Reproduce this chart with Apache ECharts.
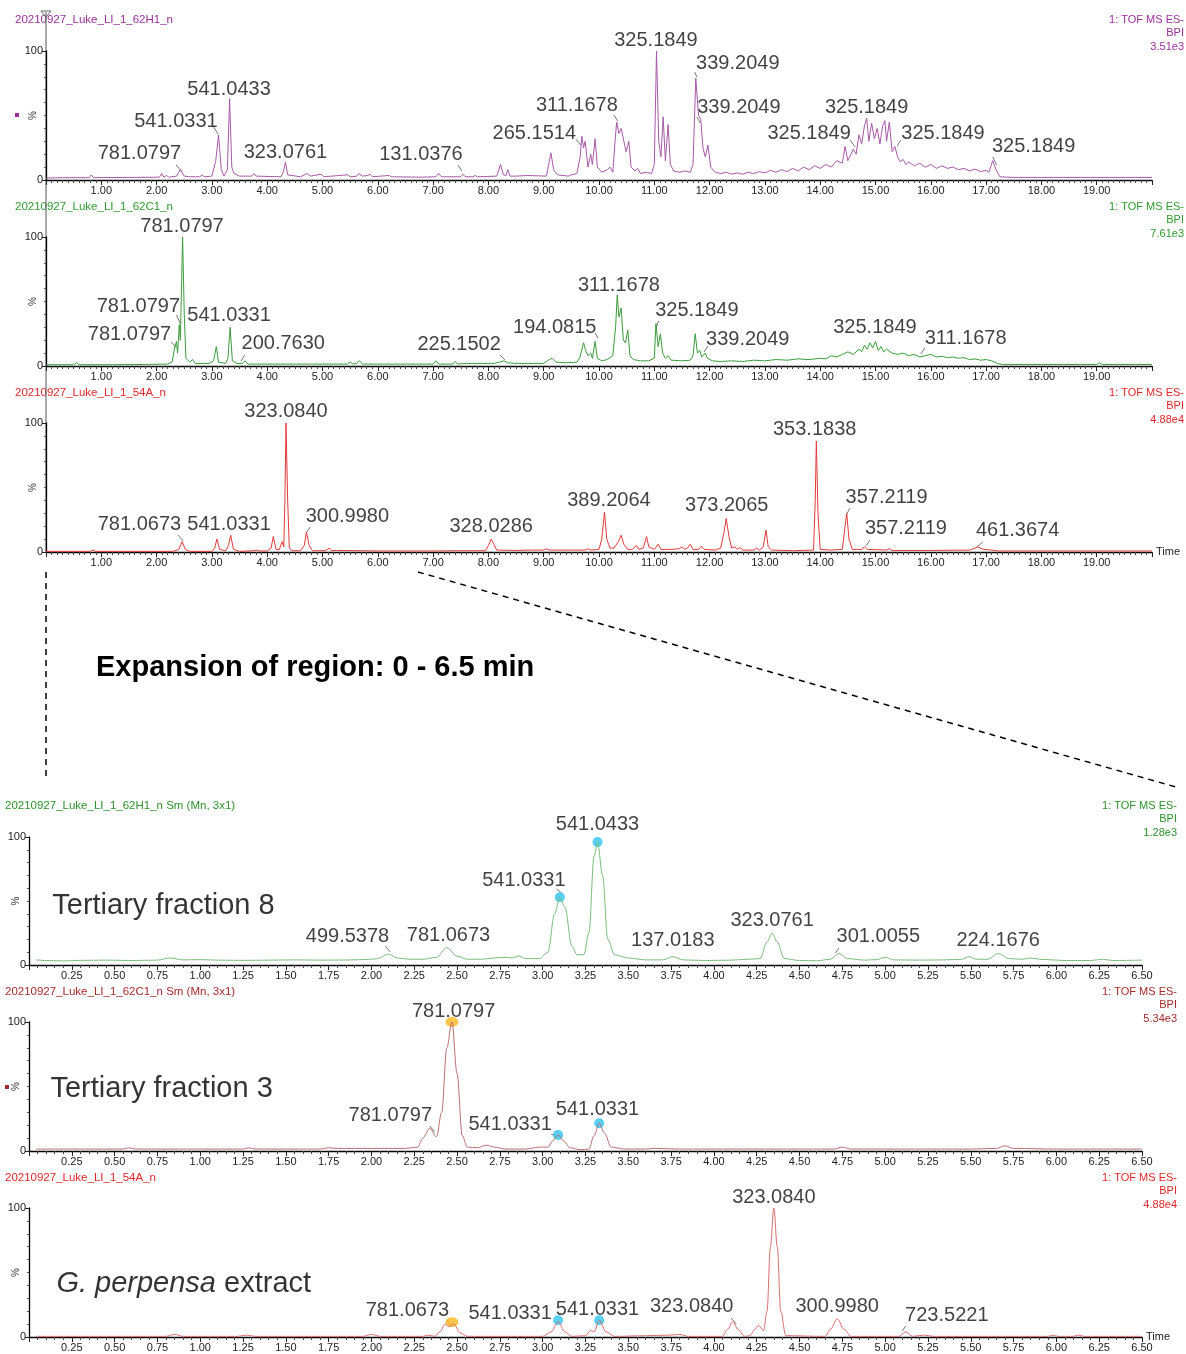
<!DOCTYPE html>
<html><head><meta charset="utf-8">
<script src="https://cdn.jsdelivr.net/npm/echarts@6/dist/echarts.min.js"></script>
<style>html,body{margin:0;padding:0;background:#fff}#c{width:1186px;height:1354px}</style>
</head><body><div id="c"></div>
<script>
// ---------- DATA: [time (min), intensity (%)] ----------
const trace62H1 = [[0,1.5],[0.3,1.8],[0.78,1.8],[0.82,4],[0.86,1.8],[1.5,2],[2.05,2.2],[2.09,5],[2.13,2.2],[2.18,3.5],[2.22,2.2],[2.36,3],[2.43,8],[2.5,3],[2.6,2.5],[2.78,2.5],[2.82,4],[2.86,2.5],[3.0,3],[3.07,15],[3.12,35],[3.17,8],[3.22,3],[3.28,8],[3.32,63],[3.36,10],[3.4,5],[3.5,3],[3.72,3],[3.76,5],[3.8,3],[4.25,2.5],[4.29,6],[4.33,14],[4.37,4],[4.6,2.5],[4.72,5],[4.78,3],[4.98,4.5],[5.02,2.5],[5.45,4],[5.5,2.5],[5.62,3],[5.66,5],[5.72,3],[5.82,3.5],[5.86,4.5],[5.9,2.5],[6.2,3.5],[6.25,2.5],[6.8,2.2],[7.05,2.5],[7.1,5],[7.15,2.5],[7.5,2.5],[7.54,4.5],[7.58,2.5],[7.72,2.5],[7.76,3.5],[7.8,2.5],[8.15,3],[8.22,12],[8.27,4],[8.32,3.5],[8.35,8],[8.39,3],[8.5,3],[8.7,3.5],[9.05,3],[9.13,21],[9.18,8],[9.25,4],[9.45,3],[9.5,4],[9.6,5],[9.66,18],[9.69,34],[9.72,25],[9.75,30],[9.8,10],[9.85,20],[9.88,12],[9.93,32],[9.97,10],[10.05,6],[10.15,8],[10.2,10],[10.25,6],[10.29,30],[10.32,45],[10.36,36],[10.4,40],[10.45,30],[10.49,22],[10.54,30],[10.58,10],[10.65,7],[10.7,9],[10.75,5],[10.85,6],[10.95,5],[11.0,12],[11.04,100],[11.08,30],[11.12,18],[11.16,49],[11.2,15],[11.25,43],[11.29,12],[11.35,7],[11.45,6],[11.55,7],[11.65,6],[11.7,12],[11.75,79],[11.8,50],[11.84,47],[11.88,25],[11.92,18],[11.97,27],[12.02,10],[12.1,6],[12.2,5],[12.3,6],[12.4,4.5],[12.5,5.5],[12.6,4.5],[12.7,6],[12.8,5],[12.9,6.5],[13.0,5.5],[13.1,7.5],[13.2,6],[13.3,8],[13.4,6.5],[13.5,9],[13.6,7],[13.7,10],[13.8,8],[13.9,11],[14.0,9],[14.1,12],[14.2,10],[14.3,15],[14.4,13],[14.45,26],[14.5,15],[14.6,24],[14.65,20],[14.7,35],[14.75,28],[14.8,42],[14.84,48],[14.88,30],[14.93,44],[14.98,32],[15.03,40],[15.08,28],[15.13,42],[15.17,46],[15.2,30],[15.25,45],[15.3,22],[15.35,26],[15.4,18],[15.45,14],[15.5,16],[15.55,12],[15.6,14],[15.7,11],[15.8,13],[15.9,10],[16.0,12],[16.1,9],[16.2,11],[16.3,9],[16.4,10],[16.5,8],[16.6,9],[16.7,7],[16.8,8.5],[16.9,6.5],[17.0,7.5],[17.05,6],[17.12,15],[17.18,8],[17.25,2.5],[17.5,2],[18,2],[19,2],[20,2]];

const trace62C1 = [[0,1],[0.5,1],[0.55,2.5],[0.6,1],[1.2,1],[1.8,1.2],[2.2,1.5],[2.28,3],[2.33,15],[2.36,19],[2.38,10],[2.41,32],[2.43,20],[2.45,60],[2.47,100],[2.5,40],[2.53,6],[2.6,3],[2.65,5],[2.7,2],[2.95,2],[3.03,4],[3.08,15],[3.12,3],[3.25,2],[3.29,6],[3.33,30],[3.37,4],[3.45,2],[3.55,2],[3.6,4],[3.65,1.5],[4.0,1.5],[4.7,1.5],[4.73,3],[4.77,1.5],[5.45,1.5],[5.5,3],[5.55,1.5],[5.62,2],[5.67,4],[5.72,1.5],[6.5,1.5],[7.0,1.5],[7.05,4],[7.1,1.5],[7.36,1.5],[7.4,3.5],[7.44,1.5],[7.6,2],[8.1,2],[8.2,3],[8.28,4],[8.35,2.5],[8.5,2],[9.0,2],[9.1,5],[9.15,6],[9.22,3],[9.4,2.5],[9.6,3],[9.65,6],[9.72,18],[9.76,12],[9.8,8],[9.85,10],[9.88,6],[9.93,19],[9.97,6],[10.05,4],[10.15,5],[10.25,8],[10.3,30],[10.33,55],[10.36,38],[10.4,45],[10.44,20],[10.48,18],[10.52,28],[10.56,8],[10.62,5],[10.75,4],[10.9,4],[11.0,6],[11.03,33],[11.07,15],[11.11,25],[11.15,10],[11.2,6],[11.25,8],[11.3,4.5],[11.5,4],[11.65,4.5],[11.7,8],[11.74,25],[11.78,10],[11.82,12],[11.86,7],[11.92,10],[11.96,6],[12.05,4],[12.2,3.5],[12.4,4],[12.6,3.5],[12.8,4.5],[13.0,4],[13.2,5],[13.4,4.5],[13.6,5.5],[13.8,5],[14.0,6],[14.1,5.5],[14.2,8],[14.3,7],[14.4,9],[14.5,11],[14.6,9],[14.7,13],[14.75,11],[14.8,16],[14.85,13],[14.9,18],[14.95,14],[15.0,19],[15.05,12],[15.1,15],[15.15,11],[15.2,13],[15.3,10],[15.4,9],[15.5,10],[15.6,8],[15.7,9],[15.8,7],[15.9,8],[16.0,9],[16.1,7],[16.2,7.5],[16.3,6.5],[16.4,7],[16.5,6],[16.6,6.5],[16.7,5],[16.8,5.5],[16.9,4.5],[17.0,5],[17.1,4],[17.2,2],[17.3,1.2],[18,1.2],[19.0,1.2],[19.05,2.5],[19.1,1.2],[20,1.2]];

const trace54A = [[0,0.5],[0.8,0.5],[0.85,1.5],[0.9,0.5],[2.3,0.5],[2.4,2],[2.46,8],[2.52,2],[2.6,0.5],[3.0,0.5],[3.05,3],[3.09,10],[3.14,2],[3.25,1],[3.3,5],[3.34,13],[3.39,2],[3.5,0.5],[3.75,1],[3.8,1.5],[3.85,0.8],[4.0,0.8],[4.07,3],[4.11,12],[4.16,2],[4.22,2],[4.27,8],[4.3,4],[4.32,40],[4.34,100],[4.37,40],[4.4,3],[4.45,1],[4.6,1],[4.67,5],[4.71,15.5],[4.76,5],[4.82,1],[5.05,1],[5.12,3],[5.16,1],[5.25,1.2],[6.0,0.8],[7.0,0.8],[7.5,1],[7.95,1],[8.0,5],[8.05,10],[8.1,6],[8.15,1.5],[8.5,1.2],[8.8,1.5],[9.0,1.5],[9.05,2.5],[9.1,1.5],[9.5,1.5],[9.75,1.5],[9.8,2.5],[9.85,1.5],[10.0,2],[10.05,10],[10.1,31],[10.14,10],[10.2,3],[10.27,3],[10.35,8],[10.4,13],[10.45,6],[10.52,2],[10.6,2],[10.68,5],[10.72,2],[10.8,3],[10.86,12],[10.9,4],[11.0,2],[11.07,6],[11.12,2],[11.3,2],[11.45,2.5],[11.5,4],[11.55,2],[11.6,3],[11.65,6],[11.7,2],[11.8,2],[11.85,4.5],[11.9,2],[12.1,1.5],[12.2,3],[12.26,15],[12.3,26],[12.35,12],[12.4,3],[12.45,4],[12.5,2],[12.55,3.5],[12.6,1.5],[12.8,1.5],[12.85,3],[12.9,1.5],[12.97,4],[13.02,17],[13.06,4],[13.12,1.5],[13.5,1],[13.88,1.5],[13.91,40],[13.93,86],[13.96,30],[14.0,2],[14.2,1.5],[14.4,2],[14.45,20],[14.48,30],[14.52,10],[14.58,2],[14.75,2],[14.8,4],[14.85,2],[15.2,1.5],[15.25,2.5],[15.3,1.2],[16.0,1.2],[16.7,1.5],[16.8,3],[16.85,4],[16.95,2],[17.1,1.5],[17.22,0.8],[20,0.8]];

const zoom62H1 = [[0.04,4],[0.1,3.5],[0.2,3.2],[0.3,3.6],[0.45,3.8],[0.6,3.5],[0.75,3.8],[0.82,5.5],[0.9,4],[1.0,4.2],[1.1,3.8],[1.25,3.6],[1.4,3.8],[1.55,4],[1.7,3.8],[1.85,3.9],[1.95,4.2],[2.03,4.8],[2.1,8.5],[2.15,5.5],[2.22,4.5],[2.3,4.5],[2.38,6],[2.44,13.5],[2.5,7],[2.56,4.5],[2.65,4.5],[2.72,5.5],[2.78,6],[2.82,5.5],[2.86,7],[2.9,5],[2.98,5],[3.03,10],[3.07,40],[3.1,53],[3.13,45],[3.17,15],[3.2,8],[3.24,8],[3.27,25],[3.3,85],[3.32,96],[3.35,70],[3.38,20],[3.42,8],[3.5,5.5],[3.6,4],[3.7,4],[3.76,6.5],[3.82,4],[3.95,3.5],[4.1,3.8],[4.2,4.5],[4.27,5],[4.31,18],[4.34,25],[4.37,18],[4.41,5],[4.5,3.5],[4.6,3.3],[4.68,4.5],[4.73,9],[4.78,5],[4.88,3.8],[4.95,4.2],[5.0,6],[5.05,4],[5.2,3.8],[5.35,4],[5.45,4.5],[5.49,6.5],[5.53,4.5],[5.6,4.5],[5.66,9],[5.72,5],[5.8,4.5],[5.85,5.5],[5.9,4.5],[6.05,3.5],[6.2,3.5],[6.27,4.5],[6.33,3.5],[6.5,3.8]];

const zoom62C1 = [[0.04,1.5],[0.3,1.5],[0.55,1.5],[0.58,2.5],[0.62,1.5],[1.0,1.5],[1.25,1.5],[1.28,2.5],[1.32,1.5],[1.7,1.5],[1.75,2.5],[1.8,2],[2.0,2],[2.2,2],[2.27,3],[2.3,10],[2.34,17.5],[2.38,11],[2.41,30],[2.44,80],[2.47,100],[2.5,60],[2.53,12],[2.56,3],[2.62,2.5],[2.67,4.5],[2.72,3],[2.78,1.5],[2.9,1.5],[2.98,3],[3.03,3],[3.06,8],[3.09,12.5],[3.12,8],[3.16,2.5],[3.22,1],[3.27,1.5],[3.3,12],[3.33,21.5],[3.36,14],[3.4,3],[3.48,1.5],[3.6,1.5],[3.65,2],[3.8,1.5],[4.3,1.5],[4.7,1.5],[4.75,3],[4.8,1.5],[5.0,1.5],[5.3,1.5],[5.5,1.5],[5.65,2],[5.7,4],[5.75,2],[6.0,1.5],[6.5,1.5]];

const zoom54A = [[0.04,0.5],[0.8,0.5],[0.85,2],[0.9,0.5],[1.22,0.5],[1.27,1.5],[1.32,0.5],[1.95,0.5],[2.0,2],[2.05,0.5],[2.3,0.5],[2.33,1.5],[2.37,0.5],[2.4,4],[2.43,10],[2.45,8],[2.48,10],[2.52,3],[2.56,0.5],[3.0,0.5],[3.05,4],[3.09,12],[3.13,4],[3.17,0.5],[3.25,1],[3.28,5],[3.3,4],[3.33,13],[3.37,4],[3.42,0.5],[3.6,1],[3.75,1.5],[3.8,2],[3.85,0.5],[4.05,0.5],[4.08,6],[4.11,12],[4.14,6],[4.18,0.5],[4.21,1],[4.24,6],[4.26,9],[4.29,5],[4.31,20],[4.33,70],[4.35,100],[4.37,70],[4.39,20],[4.42,1],[4.65,0.5],[4.68,6],[4.72,14],[4.76,6],[4.8,0.5],[5.08,0.5],[5.12,4],[5.16,0.5],[5.23,1.5],[5.28,0.5],[5.95,0.5],[5.98,1.5],[6.01,0.5],[6.1,0.5],[6.13,1.5],[6.16,0.5],[6.5,0.5]];

// peak annotations: [time, %, text]
const labels62H1 = [[1.69,20.9,'781.0797'],[2.35,45.7,'541.0331'],[3.31,70.5,'541.0433'],[4.33,21.7,'323.0761'],[6.78,19.4,'131.0376'],[8.83,36.4,'265.1514'],[9.60,58.1,'311.1678'],[11.03,108.5,'325.1849'],[12.51,90.7,'339.2049'],[12.53,56.6,'339.2049'],[13.80,35.7,'325.1849'],[14.84,56.6,'325.1849'],[16.22,35.7,'325.1849'],[17.86,25.6,'325.1849']];
const labels62C1 = [[2.46,108.5,'781.0797'],[1.67,46.5,'781.0797'],[1.51,24.8,'781.0797'],[3.31,38.8,'541.0331'],[4.29,17.1,'200.7630'],[7.47,16.3,'225.1502'],[9.20,30.2,'194.0815'],[10.36,62.8,'311.1678'],[11.77,43.4,'325.1849'],[12.69,20.9,'339.2049'],[14.99,30.2,'325.1849'],[16.63,21.7,'311.1678']];
const labels54A = [[4.34,109.3,'323.0840'],[1.69,21.7,'781.0673'],[3.31,21.7,'541.0331'],[5.45,27.9,'300.9980'],[8.05,19.4,'328.0286'],[10.18,40.3,'389.2064'],[12.31,36.4,'373.2065'],[13.90,94.6,'353.1838'],[15.20,41.9,'357.2119'],[15.55,18.6,'357.2119'],[17.57,16.3,'461.3674']];
const labelsZ62H1 = [[3.32,109.4,'541.0433'],[2.89,66.4,'541.0331'],[1.86,21.9,'499.5378'],[2.45,23.4,'781.0673'],[3.76,18.8,'137.0183'],[4.34,34.4,'323.0761'],[4.96,21.9,'301.0055'],[5.66,18.8,'224.1676']];
const labelsZ62C1 = [[2.48,108.5,'781.0797'],[2.11,27.9,'781.0797'],[2.81,20.2,'541.0331'],[3.32,31.8,'541.0331']];
const labelsZ54A = [[4.35,108.5,'323.0840'],[2.21,20.2,'781.0673'],[2.81,18.6,'541.0331'],[3.32,21.7,'541.0331'],[3.87,24.0,'323.0840'],[4.72,23.3,'300.9980'],[5.36,16.3,'723.5221']];

// leader lines from annotation to peak: [t1, %1, t2, %2]
const leaders62H1 = [[2.355,11.6,2.463,6.2],[3.03,41.1,3.11,35.7],[7.45,11.6,7.52,7.0],[9.58,31.8,9.67,27.1],[10.27,50.4,10.34,45.7],[11.73,83.7,11.77,79.8],[11.77,48.8,11.83,44.2],[14.54,31.0,14.63,25.6],[15.39,26.4,15.46,31.0],[17.12,17.8,17.19,11.6]];
const leaders62C1 = [[2.36,39.5,2.43,32.6],[2.27,18.6,2.36,14.0],[3.59,8.5,3.53,3.9],[8.21,8.5,8.30,4.7],[9.93,25.6,9.98,21.7],[11.08,34.9,11.03,29.5],[11.97,15.5,11.9,10.9],[15.89,14.0,15.82,9.3]];
const leaders54A = [[2.39,13.2,2.48,8.5],[4.78,19.4,4.70,14.7],[14.54,34.1,14.48,29.5],[14.9,9.3,14.83,4.7],[16.94,7.8,16.83,3.9]];
const leadersZ62H1 = [[3.08,59.4,3.11,56.3],[2.08,14.8,2.11,10.2],[4.73,13.3,4.71,9.4]];
const leadersZ62C1 = [[2.34,19.4,2.37,14.7],[3.05,13.2,3.08,10.9]];
const leadersZ54A = [[2.44,13.2,2.46,9.3],[4.10,14.7,4.13,10.1],[5.12,8.5,5.10,4.7]];

// sample names: [time, %, text] (left-anchored)
const sampleZ62H1 = [[0.133,46.1,'Tertiary fraction 8']];
const sampleZ62C1 = [[0.122,48.1,'Tertiary fraction 3']];
const sampleZ54A = [[0.157,41.1,'{i|G. perpensa} extract']];

// highlighted compounds: [time, %]
const cyanZ62H1 = [[3.10,53],[3.32,96]];
const orangeZ62C1 = [[2.47,100]];
const cyanZ62C1 = [[3.09,12.5],[3.33,21.5]];
const orangeZ54A = [[2.47,11.5]];
const cyanZ54A = [[3.09,13],[3.33,13]];

const fileNames = ['20210927_Luke_LI_1_62H1_n','20210927_Luke_LI_1_62C1_n','20210927_Luke_LI_1_54A_n',
  '20210927_Luke_LI_1_62H1_n Sm (Mn, 3x1)','20210927_Luke_LI_1_62C1_n Sm (Mn, 3x1)','20210927_Luke_LI_1_54A_n'];
const scaleTexts = ['3.51e3','7.61e3','4.88e4','1.28e3','5.34e3','4.88e4'];

// ---------- CHART ----------
const FONT = '"Liberation Sans", Arial, sans-serif';
const panels = [
  {d:trace62H1, lab:labels62H1, ld:leaders62H1, line:'#A65AA6', tc:'#9A2F9A', top:51, h:129, left:46, right:34, max:20, iv:1, minor:10, title:[15,20], time:false},
  {d:trace62C1, lab:labels62C1, ld:leaders62C1, line:'#3C9C3C', tc:'#2F9A2F', top:237, h:129, left:46, right:34, max:20, iv:1, minor:10, title:[15,207], time:false},
  {d:trace54A, lab:labels54A, ld:leaders54A, line:'#E23A3A', tc:'#E3262B', top:423, h:129, left:46, right:34, max:20, iv:1, minor:10, title:[15,393], time:true},
  {d:zoom62H1, lab:labelsZ62H1, ld:leadersZ62H1, s:sampleZ62H1, cy:cyanZ62H1, line:'#7CBC7C', tc:'#2E902E', top:837, h:128, left:29, right:44, max:6.5, iv:0.25, minor:5, title:[5,806], time:false, smooth:true},
  {d:zoom62C1, lab:labelsZ62C1, ld:leadersZ62C1, s:sampleZ62C1, cy:cyanZ62C1, or:orangeZ62C1, line:'#B87070', tc:'#A52A2A', top:1022, h:129, left:29, right:44, max:6.5, iv:0.25, minor:5, title:[5,992], time:false, smooth:true},
  {d:zoom54A, lab:labelsZ54A, ld:leadersZ54A, s:sampleZ54A, cy:cyanZ54A, or:orangeZ54A, line:'#DA6E6E', tc:'#E3262B', top:1208, h:129, left:29, right:44, max:6.5, iv:0.25, minor:5, title:[5,1178], time:true, smooth:true}
];

const grid=[], xAxis=[], yAxis=[], series=[], graphic=[];
panels.forEach((p,i)=>{
  grid.push({left:p.left, right:p.right, top:p.top, height:p.h, containLabel:false, outerBoundsMode:'none'});
  xAxis.push({gridIndex:i, type:'value', min:0, max:p.max, interval:p.iv,
    axisLine:{lineStyle:{color:'#000', width:1.3}},
    axisTick:{length:5, lineStyle:{color:'#222'}},
    minorTick:{show:true, splitNumber:p.minor, length:3, lineStyle:{color:'#444'}},
    splitLine:{show:false}, minorSplitLine:{show:false},
    axisLabel:{showMinLabel:false, showMaxLabel:p.max<10, fontSize:11, color:'#222', margin:5, fontFamily:FONT,
      formatter:v=>v.toFixed(2)},
    name:p.time?'Time':'', nameLocation:'end', nameGap:4, nameMoveOverlap:false,
    nameTextStyle:{fontSize:11, color:'#222', fontFamily:FONT}
  });
  yAxis.push({gridIndex:i, type:'value', min:0, max:100, interval:100,
    axisLine:{show:true, lineStyle:{color:'#000', width:1.3}},
    axisTick:{show:true, length:4, lineStyle:{color:'#222'}},
    minorTick:{show:true, splitNumber:10, length:2, lineStyle:{color:'#555'}},
    splitLine:{show:false},
    axisLabel:{fontSize:11, color:'#222', margin:3, fontFamily:FONT},
    name:'%', nameLocation:'middle', nameRotate:90, nameGap:8, nameMoveOverlap:false,
    nameTextStyle:{fontSize:10, color:'#333', fontFamily:FONT}
  });
  series.push({type:'line', xAxisIndex:i, yAxisIndex:i, data:p.d, showSymbol:false,
    smooth:p.smooth?0.35:false, smoothMonotone:'x',
    lineStyle:{color:p.line, width:1}, silent:true});
  series.push({type:'lines', coordinateSystem:'cartesian2d', xAxisIndex:i, yAxisIndex:i, silent:true,
    data:p.ld.map(a=>({coords:[[a[0],a[1]],[a[2],a[3]]]})),
    lineStyle:{color:'#777', width:1, opacity:1}});
  series.push({type:'scatter', xAxisIndex:i, yAxisIndex:i, clip:false, silent:true,
    data:p.lab.map(a=>({value:[a[0],a[1]], name:a[2]})),
    symbolSize:1, itemStyle:{color:'rgba(0,0,0,0)'},
    label:{show:true, position:'inside', formatter:'{b}', fontSize:20, color:'#111', textBorderWidth:0, fontFamily:FONT}});
  if(p.s) series.push({type:'scatter', xAxisIndex:i, yAxisIndex:i, clip:false, silent:true,
    data:p.s.map(a=>({value:[a[0],a[1]], name:a[2]})),
    symbolSize:1, itemStyle:{color:'rgba(0,0,0,0)'},
    label:{show:true, position:'right', distance:0, formatter:'{b}', fontSize:29, color:'#000', textBorderWidth:0, fontFamily:FONT,
      rich:{i:{fontSize:29, fontStyle:'italic', color:'#000', textBorderWidth:0, fontFamily:FONT}}}});
  if(p.cy) series.push({type:'scatter', xAxisIndex:i, yAxisIndex:i, clip:false, silent:true,
    data:p.cy, symbolSize:10, itemStyle:{color:'#2EC4F4'}});
  if(p.or) series.push({type:'scatter', xAxisIndex:i, yAxisIndex:i, clip:false, silent:true,
    data:p.or, symbolSize:[13,10], itemStyle:{color:'#FFB81E'}});
  graphic.push({type:'text', x:p.title[0], y:p.title[1], style:{text:fileNames[i], fill:p.tc, font:'11.5px '+FONT, textVerticalAlign:'middle'}});
  graphic.push({type:'text', x:i<3?1184:1177, y:p.title[1]-7, style:{text:'1: TOF MS ES-\nBPI\n'+scaleTexts[i], fill:p.tc, font:'11px '+FONT, textAlign:'right', textVerticalAlign:'top', lineHeight:13.5}});
});

// cursor line through the upper three chromatograms
graphic.push({type:'line', shape:{x1:46,y1:12,x2:46,y2:552}, style:{stroke:'#555', lineWidth:1}});
graphic.push({type:'polygon', shape:{points:[[41,11],[51,11],[46,17]]}, style:{fill:'none', stroke:'#666', lineWidth:1}});
// markers
graphic.push({type:'rect', shape:{x:15,y:113,width:4,height:4}, style:{fill:'#9A2F9A'}});
graphic.push({type:'rect', shape:{x:5,y:1085,width:4,height:4}, style:{fill:'#A52A2A'}});
// expansion guides
graphic.push({type:'line', shape:{x1:46,y1:572,x2:46,y2:776}, style:{stroke:'#000', lineWidth:1.5, lineDash:[6,5]}});
graphic.push({type:'line', shape:{x1:418,y1:572,x2:1176,y2:787}, style:{stroke:'#000', lineWidth:1.5, lineDash:[6,5]}});
graphic.push({type:'text', x:96, y:668, style:{text:'Expansion of region: 0 - 6.5 min', fill:'#000', font:'bold 29px '+FONT, textVerticalAlign:'middle'}});

const chart = echarts.init(document.getElementById('c'), null, {renderer:'canvas'});
chart.setOption({animation:false, backgroundColor:'#fff', grid, xAxis, yAxis, series, graphic});
</script></body></html>
